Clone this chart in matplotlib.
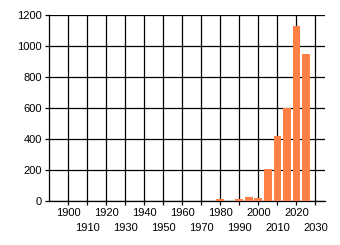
import matplotlib
matplotlib.use("Agg")
import matplotlib.pyplot as plt

years = [1980, 1990, 1995, 2000, 2005, 2010, 2015, 2020, 2025]
counts = [12, 12, 26, 19, 206, 419, 598, 1131, 950]
xticks_even = list(range(1900, 2031, 20))
xticks_odd = list(range(1910, 2031, 20))
yticks = list(range(0, 1201, 200))

plt.rcParams['font.family'] = ['Liberation Sans', 'DejaVu Sans']
fig = plt.figure(figsize=(3.4, 2.45), dpi=100)
ax = fig.add_axes([49/340, 1-201/245, (325-49)/340, (201-15)/245])

ax.bar(years, counts, width=4.1, color='#FF7F45', zorder=3)

ax.set_xlim(1890, 2035)
ax.set_ylim(0, 1200)
ax.set_xticks(xticks_even)
ax.set_xticklabels([str(y) for y in xticks_even], fontsize=8)
ax.set_xticks(xticks_odd, minor=True)
ax.set_xticklabels([str(y) for y in xticks_odd], minor=True, fontsize=8)
ax.set_yticks(yticks)
ax.set_yticklabels([str(v) for v in yticks], fontsize=8)
ax.grid(True, which='both', axis='x', color='black', linewidth=0.9, zorder=0)
ax.grid(True, axis='y', color='black', linewidth=0.9, zorder=0)
ax.set_axisbelow(True)
for s in ['top', 'right']:
    ax.spines[s].set_visible(False)
for s in ['left', 'bottom']:
    ax.spines[s].set_linewidth(0.9)
ax.tick_params(which='both', length=3, width=0.9, colors='black')
ax.tick_params(axis='x', which='major', pad=2)
ax.tick_params(axis='x', which='minor', pad=13)
ax.tick_params(axis='y', pad=2)

fig.savefig('out.png', dpi=100)
